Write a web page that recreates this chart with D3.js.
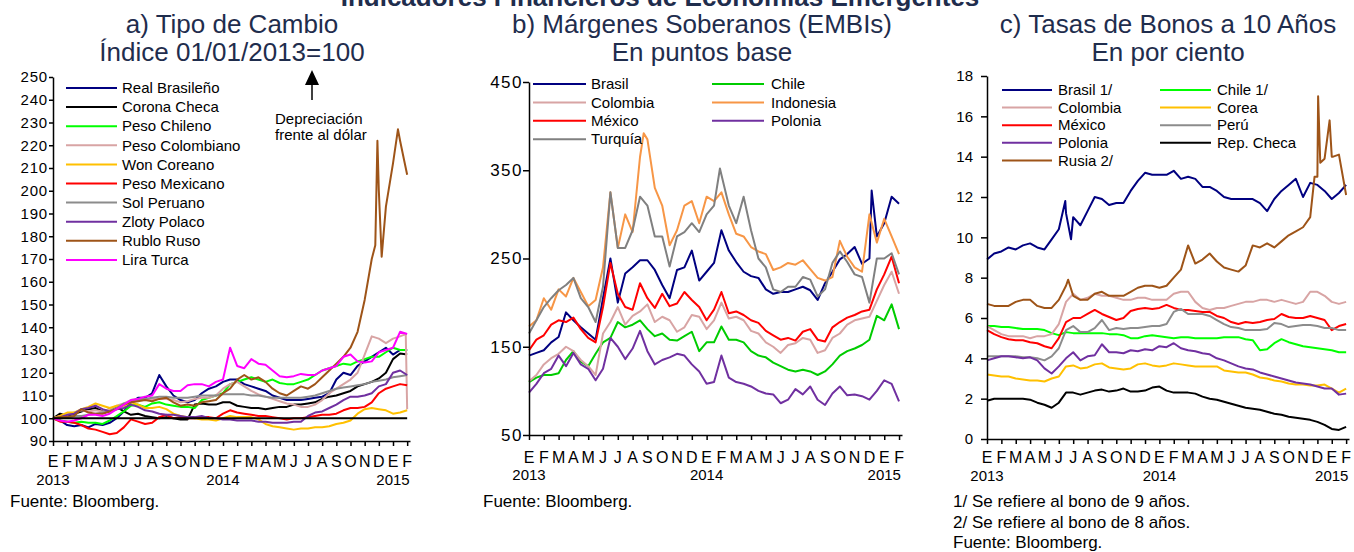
<!DOCTYPE html>
<meta charset="utf-8">
<style>
body{margin:0;background:#fff;}
text{font-family:"Liberation Sans",Arial,Helvetica,sans-serif;fill:#000;}
.titulo{fill:#1F2D4D;font-size:26px;text-anchor:middle;}
.principal{fill:#1F2D4D;font-size:26px;font-weight:bold;text-anchor:middle;}
.leyenda{font-size:15px;}
.mes{font-size:16px;text-anchor:middle;}
.anio{font-size:15px;text-anchor:middle;}
.nota{font-size:17px;}
.eje text{font-size:15px;font-family:"Liberation Sans",Arial,sans-serif;}
.eje path,.eje line{stroke:#000;stroke-width:1.5px;}
.serie{fill:none;stroke-width:2px;stroke-linejoin:round;}
</style>
<body>
<script src="https://cdn.jsdelivr.net/npm/d3@7"></script>
<script>

// eje de meses, una lectura cada medio mes
var meses=["E","F","M","A","M","J","J","A","S","O","N","D","E","F","M","A","M","J","J","A","S","O","N","D","E","F"];
var anios=["2013","2014","2015"];
var aniosMes=[0,12,24];
var paso=0.5;

// a) Tipo de cambio, indice 01/01/2013=100
var tcReal=[100,99,97,96.5,97,96,97.5,97,98,100,
 103,107,109,109,111,119,114,110,108,107,
 108,111,113,114,116,117,117,115,114,113,
 112,110,109,108,108,108,108.5,109,109.5,111,
 117,120,119,123,125,127,129,131,128,130,
 130];
var tcCorona=[100,102,101,102,103,104,104.5,103,104,105,
 103,101.5,102,101,100.5,100,100.5,100,99.5,99.5,
 106,106.5,106,106,107,107,105.5,105,104.5,104.5,
 104,104.5,105,105,106,106,106.5,107,108.5,109.5,
 110,111,112,114,115,116,117.5,120,126,128.5,
 128];
var tcChileno=[100,99,98.5,98,98.5,98,98,97.5,99,101,
 103,105.5,106,105,106.5,107,106,105.5,105,105,
 104.5,108,109,110,111,115,116,117,118,117,
 116,117,115.5,115,115,116,117,119,121,122,
 123,124,123.5,125,126,127,127,129,131,130,
 130];
var tcColombiano=[100,101,101.5,102.5,103.5,103,103.5,103,104,105.5,
 106.5,108,108.5,108,108.5,108.5,108.5,108,107,107.5,
 108.5,109,109,110,113,115,116,114,112,110.5,
 109.5,108.5,107.5,106.5,106,105,105,106,108,111,
 113,115,117,120,128,136,135,133,135,136,
 104];
var tcWon=[100,101,102.5,102.5,104,105,106.5,105.5,104.5,105.5,
 105.5,107,106,104.5,104.5,105,104,102,101,100.5,
 100,99.5,99.5,99,100,101,100.5,100.5,100.5,99.5,
 97.5,96.5,96,95.5,95,95.5,95.5,96,96,96.5,
 97.5,98,99,102,104,104.5,104,103.5,102,102.5,
 103.5];
var tcMexicano=[100,98.5,98.5,98,97,95.5,95,94,93,93.5,
 96,99.5,98.5,97.5,98,100.5,101.5,100,100.5,100,
 100,100.5,100.5,100,102,103.5,102.5,102,101.5,101,
 101,100.5,100,99.5,100,100,100.5,101,101.5,101.5,
 102,103.5,104.5,104.5,105,107,111,113,114,115,
 114.5];
var tcSol=[100,100,100.5,101,101,101.5,102,102.5,103,104.5,
 106.5,107,108,108.5,109,109.5,109.5,109,109,109,
 109.5,110,110,110,110.5,110.5,110.5,110.5,110,110,
 109.5,109,109,109,109,109,109.5,110,111,112,
 113,113.5,114,114.5,115,116,116.5,117,118,118.5,
 119];
var tcZloty=[100,100.5,101.5,102,104,104.5,105.5,104,103,104,
 104.5,106,105,103.5,103,102,101.5,101.5,101,100.5,
 100.5,101,100,100,99.5,99.5,99,99,99,98.5,
 98.5,98,98,98,98.5,98.5,101,102.5,103,104.5,
 106,108,109.5,109.5,110,111,114,115,120,121,
 119];
var tcRublo=[100,100.5,100.5,101,104,102.5,102,102,103,104,
 106,107,107.5,108,107.5,108.5,109,107,105.5,106,
 105.5,107,107.5,108,111,113,117,119,117,118,
 116,113,111,110,112,114,113,115,118,121,
 124,127,131,138,152,170,200,193,212,222,
 207];
var tcLira=[100,99,98.5,99,100,101.5,101.5,101,102,104,
 106,108,108.5,109.5,110,115,113,112,112,114.5,
 115,115,114,116,117,131,123,122,126,124,
 123.5,121,118.5,118,118.5,119.5,119,119,121,122,
 123,127,128,125,124.5,125,129,130,131,138,
 137];
// lecturas sueltas entre medios meses (picos)
var tcRubloPicos=[[22.75,176],[22.9,222],[23.2,171],[24.35,227],[24.8,213]];
var tcColombianoPicos=[[24.9,137]];

var tcNombres=["Real Brasileño","Corona Checa","Peso Chileno","Peso Colombiano","Won Coreano","Peso Mexicano","Sol Peruano","Zloty Polaco","Rublo Ruso","Lira Turca"];
var tcColores=["#000080","#000000","#00FF00","#D8A4A4","#FFC000","#FF0000","#8C8C8C","#7030A0","#9E5418","#FF00FF"];
var tcDatos=[tcReal,tcCorona,tcChileno,tcColombiano,tcWon,tcMexicano,tcSol,tcZloty,tcRublo,tcLira];
var tcPicos={3:tcColombianoPicos,8:tcRubloPicos};

// b) EMBIs, puntos base
var emBrasil=[140,143,146,155,161,189,180,172,165,158,
 205,250,200,233,240,248,248,237,220,205,
 237,240,259,225,235,245,282,259,246,235,
 230,228,215,210,212,212,215,218,214,203,
 222,235,249,255,263,244,250,275,290,320,
 312];
var emChile=[110,115,118,118,120,135,145,133,128,142,
 155,160,178,172,175,180,170,162,165,158,
 157,162,167,145,155,155,173,158,158,155,
 145,140,138,132,128,124,122,124,122,118,
 122,130,140,145,148,152,158,185,180,198,
 170];
var emColombia=[111,118,130,137,142,150,145,135,128,118,
 165,178,195,175,185,190,198,178,184,180,
 167,172,186,184,170,180,200,182,184,180,
 168,165,155,150,143,152,154,160,158,143,
 146,160,165,175,180,182,184,202,220,235,
 210];
var emIndonesia=[173,180,205,192,215,207,228,212,196,203,
 240,325,262,300,280,365,385,330,310,265,
 282,310,315,290,320,315,325,300,278,275,
 263,258,255,237,240,245,243,248,238,228,
 225,229,270,252,240,235,300,268,295,275,
 255];
var emMexico=[146,158,163,175,180,178,183,170,160,155,
 195,245,210,195,192,222,205,194,210,196,
 199,212,203,195,180,192,212,188,190,186,
 180,177,168,163,158,160,157,167,170,158,
 156,172,178,183,186,190,192,215,232,252,
 222];
var emPolonia=[98,108,120,125,140,128,143,130,125,112,
 125,160,150,136,148,168,145,130,135,138,
 142,140,130,122,108,110,140,115,110,108,
 105,100,97,96,86,90,102,96,105,90,
 84,97,105,95,96,94,90,100,112,108,
 88];
var emTurquia=[165,180,195,205,214,220,228,205,195,178,
 218,325,262,262,282,320,310,275,275,241,
 275,280,290,280,300,310,345,310,290,320,
 282,250,240,215,212,218,218,229,226,207,
 215,245,258,246,232,229,200,250,250,256,
 232];
var emBrasilPicos=[[23.15,327]];
var emIndonesiaPicos=[[7.75,392]];
var emTurquiaPicos=[[12.9,352]];

var emNombres=["Brasil","Chile","Colombia","Indonesia","México","Polonia","Turquía"];
var emColores=["#000080","#00CC00","#D8A4A4","#F79646","#FF0000","#7030A0","#808080"];
var emDatos=[emBrasil,emChile,emColombia,emIndonesia,emMexico,emPolonia,emTurquia];
var emPicos={0:emBrasilPicos,3:emIndonesiaPicos,6:emTurquiaPicos};

// c) Tasas de bonos a 10 anos, por ciento
var tbBrasil=[8.9,9.2,9.3,9.5,9.4,9.6,9.7,9.5,9.4,9.9,
 10.4,11.2,11.0,10.6,11.3,12.0,11.9,11.6,11.7,11.7,
 12.3,12.8,13.2,13.1,13.1,13.1,13.3,12.9,13.0,12.9,
 12.5,12.5,12.3,12.0,11.9,11.9,11.9,11.9,11.7,11.3,
 11.9,12.3,12.6,12.9,12.0,12.7,12.6,12.3,11.9,12.2,
 12.6];
var tbChile=[5.6,5.6,5.55,5.55,5.5,5.45,5.45,5.45,5.4,5.25,
 5.15,5.3,5.25,5.25,5.25,5.25,5.25,5.2,5.2,5.15,
 5.0,5.0,5.1,5.15,5.1,5.05,5.0,5.05,5.05,5.0,
 5.0,5.0,5.0,5.05,5.05,5.05,4.95,4.9,4.4,4.45,
 4.75,4.95,4.8,4.7,4.6,4.55,4.5,4.45,4.4,4.3,
 4.3];
var tbColombia=[5.6,5.4,5.2,5.1,5.1,5.1,5.0,5.1,5.1,5.2,
 5.7,6.8,7.2,6.9,7.0,7.2,7.1,7.1,7.0,6.9,
 6.9,7.0,7.0,6.9,6.9,6.9,7.2,7.3,7.3,6.8,
 6.5,6.4,6.5,6.5,6.6,6.7,6.8,6.8,6.9,6.9,
 6.8,6.9,6.8,6.7,6.8,7.3,7.3,7.1,6.8,6.7,
 6.8];
var tbCorea=[3.2,3.15,3.1,3.1,3.0,2.95,2.9,2.9,2.85,3.0,
 3.1,3.6,3.65,3.5,3.55,3.7,3.75,3.55,3.5,3.45,
 3.5,3.7,3.75,3.65,3.6,3.65,3.75,3.7,3.65,3.6,
 3.6,3.6,3.6,3.4,3.35,3.3,3.3,3.2,3.05,3.0,
 2.9,2.85,2.75,2.7,2.7,2.65,2.65,2.7,2.5,2.3,
 2.5];
var tbMexico=[5.4,5.2,5.05,4.95,4.9,4.9,4.8,4.75,4.6,4.5,
 5.0,5.8,6.0,6.0,6.2,6.4,6.2,6.05,5.9,6.0,
 6.35,6.45,6.5,6.45,6.5,6.65,6.5,6.4,6.4,6.35,
 6.3,6.3,6.1,6.0,5.8,5.7,5.8,5.75,5.8,5.9,
 5.95,6.2,6.05,6.0,6.0,6.1,6.0,5.9,5.4,5.6,
 5.7];
var tbPeru=[4.1,4.1,4.1,4.1,4.1,4.05,4.05,4.0,3.9,4.1,
 4.5,5.4,5.6,5.3,5.3,5.5,5.9,5.4,5.5,5.45,
 5.5,5.5,5.55,5.6,5.6,5.7,6.3,6.45,6.2,6.2,
 6.2,6.1,5.9,5.7,5.55,5.5,5.4,5.4,5.4,5.45,
 5.75,5.7,5.55,5.6,5.65,5.65,5.6,5.5,5.5,5.4,
 5.4];
var tbPolonia=[3.9,4.0,4.1,4.1,4.05,4.0,4.05,3.9,3.5,3.25,
 3.6,4.0,4.3,3.9,4.1,4.15,4.7,4.3,4.3,4.25,
 4.4,4.35,4.45,4.4,4.6,4.55,4.75,4.5,4.4,4.35,
 4.25,4.2,4.0,3.9,3.75,3.6,3.5,3.45,3.3,3.2,
 3.1,3.0,2.9,2.8,2.75,2.7,2.6,2.5,2.5,2.2,
 2.25];
var tbCheca=[1.9,2.0,2.0,2.0,2.0,2.0,1.95,1.8,1.7,1.55,
 1.8,2.3,2.3,2.2,2.3,2.4,2.45,2.35,2.4,2.5,
 2.35,2.35,2.4,2.55,2.6,2.4,2.3,2.3,2.3,2.25,
 2.1,2.0,1.95,1.85,1.75,1.65,1.55,1.5,1.45,1.35,
 1.25,1.2,1.1,1.05,1.0,0.95,0.85,0.7,0.5,0.45,
 0.6];
var tbRusia=[6.7,6.6,6.6,6.6,6.8,6.9,6.9,6.6,6.5,6.5,
 6.9,7.6,7.1,6.9,6.9,7.2,7.3,7.1,7.1,7.1,
 7.3,7.5,7.6,7.6,7.5,7.6,8.0,8.4,9.6,8.7,
 8.9,9.2,8.8,8.5,8.4,8.3,8.6,9.6,9.5,9.7,
 9.5,9.8,10.1,10.3,10.5,11.0,13.0,13.9,14.0,14.1,
 12.1];
var tbBrasilPicos=[[5.45,11.8],[5.85,9.9]];
var tbRusiaPicos=[[5.65,7.9],[22.8,13.0],[23.05,17.0],[23.2,13.7],[23.85,15.8],[24.1,14.0]];

var tbNombres=["Brasil 1/","Chile 1/","Colombia","Corea","México","Perú","Polonia","Rep. Checa","Rusia 2/"];
var tbColores=["#000080","#00FF00","#D8A4A4","#FFC000","#FF0000","#8C8C8C","#7030A0","#000000","#9E5418"];
var tbDatos=[tbBrasil,tbChile,tbColombia,tbCorea,tbMexico,tbPeru,tbPolonia,tbCheca,tbRusia];
var tbPicos={0:tbBrasilPicos,8:tbRusiaPicos};

var svg=d3.select("body").append("svg").attr("width",1354).attr("height",552);

svg.append("text").attr("class","principal").attr("x",660).attr("y",6)
	.text("Indicadores Financieros de Economías Emergentes");

function panel(p){
	var x=d3.scaleLinear().domain([0,25.2]).range([p.x0,p.x1]);
	var y=d3.scaleLinear().domain(p.dom).range([p.yb,p.yt]);
	var g=svg.append("g");

	g.append("text").attr("class","titulo").attr("x",p.cx).attr("y",33).text(p.t1);
	g.append("text").attr("class","titulo").attr("x",p.cx).attr("y",61).text(p.t2);

	var line=d3.line().x(d=>x(d[0])).y(d=>y(d[1]));
	p.datos.forEach(function(v,k){
		var pts=v.map((d,i)=>[i*paso,d]).concat(p.picos[k]||[]).sort((a,b)=>a[0]-b[0]);
		g.append("path").attr("class","serie").datum(pts)
			.attr("stroke",p.colores[k]).attr("d",line);
	});
	if(p.base!=null){
		g.append("line").attr("x1",x(0)).attr("x2",x(25)).attr("y1",y(p.base)).attr("y2",y(p.base))
			.attr("stroke","#000").attr("stroke-width",2);
	}

	g.append("g").attr("class","eje").attr("transform","translate("+p.x0+",0)")
		.call(d3.axisLeft(y).tickValues(p.ticks).tickSize(p.tick).tickPadding(p.pad).tickSizeOuter(0))
		.selectAll("text").style("font-size",p.fs+"px").style("letter-spacing",p.ls+"px");
	g.append("g").attr("class","eje").attr("transform","translate(0,"+p.yb+")")
		.call(d3.axisBottom(x).tickValues(d3.range(meses.length)).tickSize(5).tickSizeOuter(0).tickFormat(""));

	g.selectAll(".mes").data(meses).join("text").attr("class","mes")
		.attr("x",(d,i)=>x(i)).attr("y",p.mesY).text(d=>d);
	g.selectAll(".anio").data(anios).join("text").attr("class","anio")
		.attr("x",(d,i)=>x(aniosMes[i])).attr("y",p.anioY).text(d=>d);

	// leyenda, por filas
	var nc=p.ley.cols.length;
	p.nombres.forEach(function(n,k){
		var c=p.ley.cols[k%nc], fy=p.ley.y0+Math.floor(k/nc)*p.ley.dy;
		g.append("line").attr("x1",c[0]).attr("x2",c[1]).attr("y1",fy).attr("y2",fy)
			.attr("stroke",p.colores[k]).attr("stroke-width",2);
		g.append("text").attr("class","leyenda").attr("x",c[2]).attr("y",fy).attr("dy","0.35em").text(n);
	});

	p.notas.forEach(function(n,k){
		g.append("text").attr("class","nota").attr("x",p.notaX).attr("y",507+k*20.5).text(n);
	});
	return {x:x,y:y,g:g};
}

var pa=panel({x0:53,x1:410,yt:77,yb:441,dom:[90,250],ticks:d3.range(90,251,10),tick:4,pad:1,fs:15,ls:0.8,
	mesY:466.5,anioY:485,cx:232,t1:"a) Tipo de Cambio",t2:"Índice 01/01/2013=100",
	datos:tcDatos,colores:tcColores,nombres:tcNombres,picos:tcPicos,base:100,
	ley:{cols:[[66,117,122]],y0:88,dy:19.1},notas:["Fuente: Bloomberg."],notaX:10});

panel({x0:529,x1:902,yt:82,yb:435,dom:[50,450],ticks:[50,150,250,350,450],tick:6,pad:0,fs:17,ls:1.5,
	mesY:462.5,anioY:480,cx:702,t1:"b) Márgenes Soberanos (EMBIs)",t2:"En puntos base",
	datos:emDatos,colores:emColores,nombres:emNombres,picos:emPicos,base:null,
	ley:{cols:[[533,586,591],[712,764,771]],y0:84,dy:18.4},notas:["Fuente: Bloomberg."],notaX:483});

panel({x0:987,x1:1349,yt:76,yb:439,dom:[0,18],ticks:d3.range(0,19,2),tick:6,pad:8,fs:15,ls:0,
	mesY:463,anioY:481,cx:1168,t1:"c) Tasas de Bonos a 10 Años",t2:"En por ciento",
	datos:tbDatos,colores:tbColores,nombres:tbNombres,picos:tbPicos,base:null,
	ley:{cols:[[1002,1052,1058],[1160,1211,1217]],y0:90,dy:17.6},
	notas:["1/ Se refiere al bono de 9 años.","2/ Se refiere al bono de 8 años.","Fuente: Bloomberg."],notaX:953});

// flecha de depreciacion
var fx=312;
pa.g.append("line").attr("x1",fx).attr("x2",fx).attr("y1",100).attr("y2",84)
	.attr("stroke","#000").attr("stroke-width",1.5);
pa.g.append("path").attr("d","M"+fx+",70L"+(fx+7)+",85L"+(fx-7)+",85Z").attr("fill","#000");
pa.g.append("text").attr("class","leyenda").attr("x",275).attr("y",124).text("Depreciación");
pa.g.append("text").attr("class","leyenda").attr("x",275).attr("y",140).text("frente al dólar");

</script>
</body>
